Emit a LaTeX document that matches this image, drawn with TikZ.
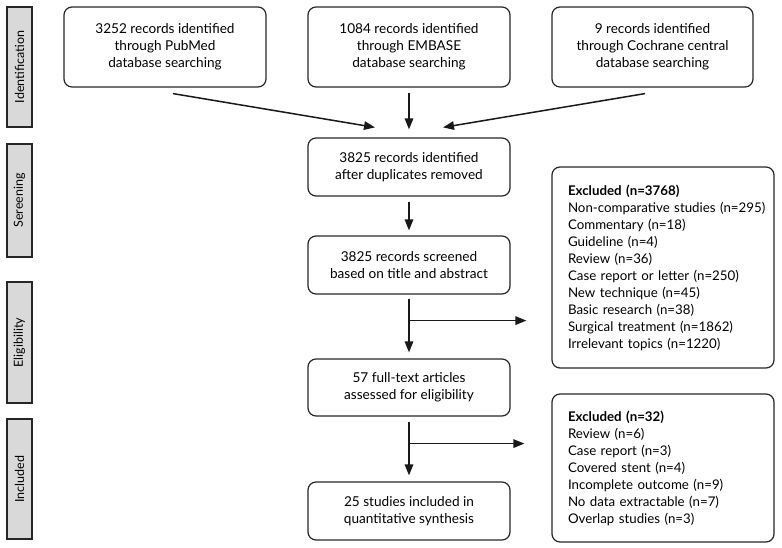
\documentclass[tikz,border=0pt]{standalone}
\usepackage{fontspec}
\setmainfont{Lato}
\usetikzlibrary{arrows.meta,calc}
\begin{document}
\begin{tikzpicture}[x=1pt,y=-1pt,
  box/.style={draw=black!85, line width=1.2pt, rounded corners=8pt, align=center,
    font=\fontsize{13.6}{17}\selectfont, inner sep=0pt, minimum width=202pt},
  exbox/.style={draw=black!85, line width=1.2pt, rounded corners=8pt, align=left,
    font=\fontsize{13.3}{17}\selectfont, inner sep=0pt, text width=190pt, minimum width=222pt},
  side/.style={draw=black!85, fill=black!15, line width=1.7pt, rotate=90,
    font=\fontsize{12.5}{14}\selectfont, minimum height=25pt, inner sep=0pt},
  arr/.style={draw=black!90, line width=1.5pt, -{Triangle[length=11pt,width=8.5pt]}}]
\useasboundingbox (0,0) rectangle (782,548);
% stage labels
\node[side, minimum width=120pt] (s1) at (19.5,67) {Identification};
\node[side, minimum width=113pt] (s2) at (19.5,200.5) {Sereening};
\node[side, minimum width=121pt] (s3) at (19.5,342.5) {Eligibility};
\node[side, minimum width=120pt] (s4) at (19.5,479) {Included};
% boxes
\node[box, minimum height=80pt] (pub) at (165,47) {3252 records identified\\through PubMed\\database searching};
\node[box, minimum height=80pt] (emb) at (409,47) {1084 records identified\\through EMBASE\\database searching};
\node[box, minimum height=80pt, minimum width=201pt] (coc) at (652.5,47) {9 records identified\\through Cochrane central\\database searching};
\node[box, minimum height=58pt] (dup) at (409,167) {3825 records identified\\after duplicates removed};
\node[box, minimum height=58pt] (scr) at (409,265) {3825 records screened\\based on title and abstract};
\node[box, minimum height=57pt] (ful) at (409,387.5) {57 full-text articles\\assessed for eligibility};
\node[box, minimum height=58pt] (inc) at (409,511) {25 studies included in\\quantitative synthesis};
\node[exbox, minimum height=201pt] (ex1) at (663,267.5) {\textbf{Excluded (n=3768)}\\\mbox{Non-comparative studies (n=295)}\\Commentary (n=18)\\Guideline (n=4)\\Review (n=36)\\Case report or letter (n=250)\\New technique (n=45)\\Basic research (n=38)\\Surgical treatment (n=1862)\\Irrelevant topics (n=1220)};
\node[exbox, minimum height=148pt] (ex2) at (663,468) {\textbf{Excluded (n=32)}\\Review (n=6)\\Case report (n=3)\\Covered stent (n=4)\\Incomplete outcome (n=9)\\No data extractable (n=7)\\Overlap studies (n=3)};
% connectors
\draw[arr] ($(pub.south)+(8,6)$) -- ($(dup.north)+(-34,-10)$);
\draw[arr] ($(emb.south)+(0,5)$) -- ($(dup.north)+(0,-8)$);
\draw[arr] ($(coc.south)+(-7.5,6)$) -- ($(dup.north)+(34,-10)$);
\draw[arr] ($(dup.south)+(0,5)$) -- ($(scr.north)+(0,-5)$);
\coordinate (b1) at ($(scr.south)+(0,26)$);
\coordinate (b2) at ($(ful.south)+(0,27)$);
\draw[arr] ($(scr.south)+(0,4)$) -- ($(ful.north)+(0,-6)$);
\draw[arr] (b1) -- ($(ex1.west |- b1)+(-25,0)$);
\draw[arr] ($(ful.south)+(0,5)$) -- ($(inc.north)+(0,-6)$);
\draw[arr] (b2) -- ($(ex2.west |- b2)+(-27,0)$);
\end{tikzpicture}
\end{document}
